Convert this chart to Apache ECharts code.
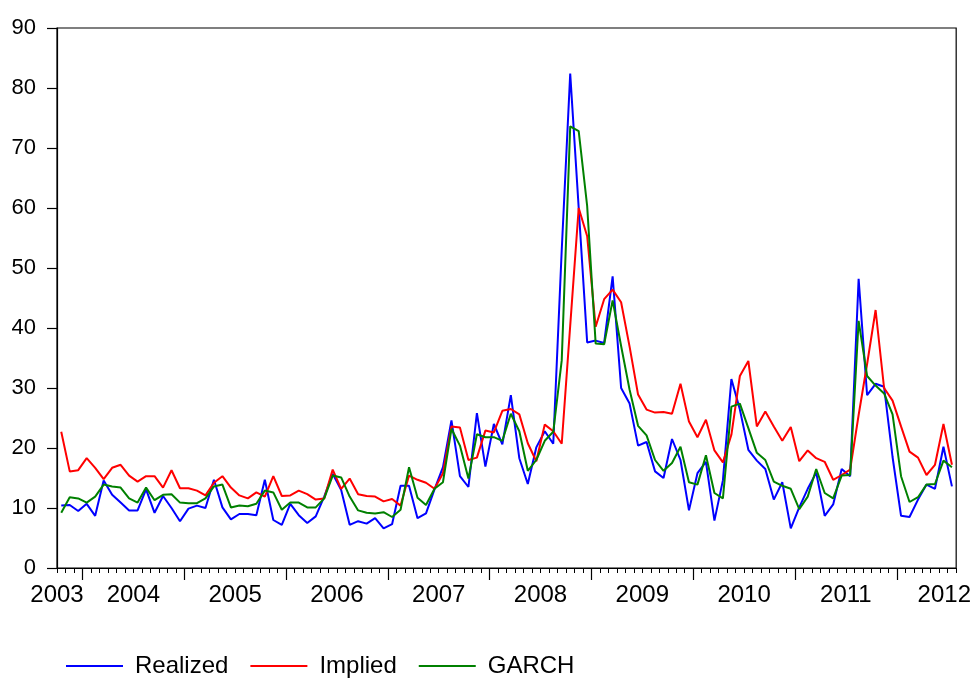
<!DOCTYPE html>
<html>
<head>
<meta charset="utf-8">
<script src="https://cdn.jsdelivr.net/npm/echarts@6/dist/echarts.min.js"></script>
<style>
html,body{margin:0;padding:0;background:#fff;}
#chart{width:974px;height:683px;}
</style>
</head>
<body>
<div id="chart"></div>
<script>
// Monthly observations, Oct 2003 .. Jul 2012
const startYear = 2003, startMonth = 10, nObs = 106;
const months = [];
for (let i = 0; i < nObs; i++) {
  const m0 = startMonth - 1 + i;
  const y = startYear + Math.floor(m0 / 12);
  const m = (m0 % 12) + 1;
  months.push(y + '-' + (m < 10 ? '0' + m : m));
}

const realized = [
  10.4, 10.5, 9.5, 10.7, 8.7, 14.6, 12.2, 10.9, 9.6, 9.6,
  13.1, 9.2, 12.0, 10.0, 7.8, 9.9, 10.4, 10.0, 14.7, 10.1,
  8.1, 9.0, 9.0, 8.8, 14.7, 8.0, 7.2, 10.7, 8.8, 7.5,
  8.6, 11.9, 15.7, 13.0, 7.2, 7.8, 7.4, 8.3, 6.6, 7.3,
  13.7, 13.7, 8.3, 9.1, 13.1, 16.8, 24.6, 15.3, 13.5, 25.8,
  16.9, 24.0, 20.6, 28.8, 18.3, 14.0, 20.1, 22.8, 20.7, 53.0,
  82.4, 60.0, 37.6, 37.9, 37.5, 48.6, 30.0, 27.4, 20.4, 21.0,
  16.1, 15.0, 21.5, 18.0, 9.6, 15.8, 17.7, 7.9, 14.6, 31.5,
  26.4, 19.7, 17.9, 16.5, 11.4, 14.3, 6.6, 10.1, 13.2, 15.9,
  8.7, 10.6, 16.5, 15.3, 48.2, 28.8, 30.7, 30.2, 18.5, 8.7,
  8.5, 11.4, 13.9, 13.2, 20.2, 13.6
];
const implied = [
  22.7, 16.1, 16.3, 18.3, 16.7, 14.8, 16.7, 17.2, 15.4, 14.4,
  15.3, 15.3, 13.4, 16.3, 13.3, 13.3, 12.9, 12.1, 14.2, 15.3,
  13.4, 12.1, 11.6, 12.6, 11.9, 15.3, 12.0, 12.1, 12.9, 12.3,
  11.4, 11.6, 16.4, 13.2, 14.9, 12.3, 12.0, 11.9, 11.1, 11.5,
  10.4, 15.4, 14.7, 14.2, 13.2, 15.8, 23.6, 23.4, 18.0, 18.4,
  22.9, 22.6, 26.2, 26.5, 25.6, 20.8, 17.8, 23.9, 22.8, 20.7,
  40.4, 60.0, 55.3, 40.2, 44.8, 46.4, 44.3, 36.9, 28.9, 26.4,
  25.9, 26.0, 25.7, 30.7, 24.4, 21.8, 24.7, 19.6, 17.6, 22.2,
  32.0, 34.5, 23.6, 26.1, 23.6, 21.2, 23.5, 17.8, 19.6, 18.3,
  17.7, 14.7, 15.5, 16.4, 25.5, 34.0, 43.0, 30.0, 27.9, 23.6,
  19.4, 18.4, 15.5, 17.2, 24.0, 17.2
];
const garch = [
  9.2, 11.8, 11.6, 10.9, 11.9, 13.9, 13.6, 13.4, 11.6, 10.9,
  13.4, 11.3, 12.2, 12.3, 10.9, 10.8, 10.8, 11.6, 13.6, 13.9,
  10.1, 10.4, 10.3, 10.7, 12.9, 12.6, 9.7, 10.9, 10.9, 10.1,
  10.1, 11.6, 15.4, 15.1, 11.9, 9.6, 9.2, 9.1, 9.3, 8.5,
  9.7, 16.8, 11.7, 10.5, 13.2, 14.3, 23.2, 20.4, 14.9, 22.3,
  21.8, 21.8, 21.2, 25.7, 22.8, 16.2, 18.0, 21.2, 22.7, 34.6,
  73.6, 72.8, 60.3, 37.4, 37.3, 44.6, 37.0, 29.7, 23.7, 22.1,
  18.0, 16.2, 17.5, 20.2, 14.3, 13.9, 18.8, 12.5, 11.6, 26.9,
  27.4, 23.3, 19.2, 18.0, 14.4, 13.7, 13.2, 9.8, 11.9, 16.5,
  12.5, 11.6, 15.4, 15.5, 41.2, 32.0, 30.4, 29.1, 25.6, 15.3,
  11.0, 11.8, 13.9, 14.0, 17.9, 16.8
];
const seriesNames = ['Realized', 'Implied', 'GARCH'];
const yTicks = [0, 10, 20, 30, 40, 50, 60, 70, 80, 90];

// Year boundaries (index of January) and year label positions
const yearStarts = [];
const yearLabelPos = [];
const yearLabelText = {};
{
  const years = [];
  months.forEach((m, i) => {
    const y = +m.slice(0, 4);
    if (!years.length || years[years.length - 1].y !== y) years.push({ y: y, s: i, e: i + 1 });
    else years[years.length - 1].e = i + 1;
  });
  years.forEach((yr, k) => {
    if (k > 0) yearStarts.push(yr.s);
    let pos;
    if (k === 0) pos = 0;
    else if (k === years.length - 1) pos = nObs - 1.4;
    else pos = (yr.s + yr.e) / 2;
    yearLabelPos.push(pos);
    yearLabelText[pos.toFixed(2)] = String(yr.y);
  });
}

const FONT = '"Liberation Sans", Arial, Helvetica, sans-serif';
const chart = echarts.init(document.getElementById('chart'), null, { renderer: 'canvas' });
const colors = ['#0000FF', '#FF0000', '#008000'];

chart.setOption({
  animation: false,
  backgroundColor: '#ffffff',
  color: colors,
  grid: {
    left: 57, top: 28, width: 902, height: 540,
    show: true, borderColor: '#000', borderWidth: 1.2, backgroundColor: 'transparent'
  },
  legend: {
    left: 66, top: 654, padding: 0,
    icon: 'rect', itemWidth: 57, itemHeight: 2, itemGap: 22,
    data: seriesNames,
    textStyle: { fontFamily: FONT, fontSize: 24, color: '#000', padding: [0, 0, 4, 7] }
  },
  xAxis: [
    {
      type: 'category', data: months, boundaryGap: true,
      axisLine: { lineStyle: { color: '#000', width: 1.2 } },
      axisTick: { show: true, interval: 0, length: 5, lineStyle: { color: '#000', width: 1 } },
      axisLabel: { show: false },
      splitLine: { show: false }
    },
    {
      type: 'value', min: 0, max: nObs, position: 'bottom',
      axisLine: { show: false },
      axisTick: { show: true, length: 12, customValues: yearStarts, lineStyle: { color: '#000', width: 1.2 } },
      axisLabel: {
        show: true, customValues: yearLabelPos, margin: 15,
        fontFamily: FONT, fontSize: 24, color: '#000',
        formatter: v => yearLabelText[(+v).toFixed(2)] || ''
      },
      splitLine: { show: false }
    }
  ],
  yAxis: {
    type: 'value', min: yTicks[0], max: yTicks[yTicks.length - 1], interval: 10,
    axisLine: { show: true, onZero: false, lineStyle: { color: '#000', width: 1.2 } },
    axisTick: { show: true, length: 10, lineStyle: { color: '#000', width: 1.2 } },
    axisLabel: { margin: 21, fontFamily: FONT, fontSize: 22, color: '#000' },
    splitLine: { show: false }
  },
  series: [
    { name: seriesNames[0], type: 'line', data: realized, symbol: 'none', lineStyle: { width: 2, color: colors[0] } },
    { name: seriesNames[1], type: 'line', data: implied, symbol: 'none', lineStyle: { width: 2, color: colors[1] } },
    { name: seriesNames[2], type: 'line', data: garch, symbol: 'none', lineStyle: { width: 2, color: colors[2] } }
  ]
});
</script>
</body>
</html>
